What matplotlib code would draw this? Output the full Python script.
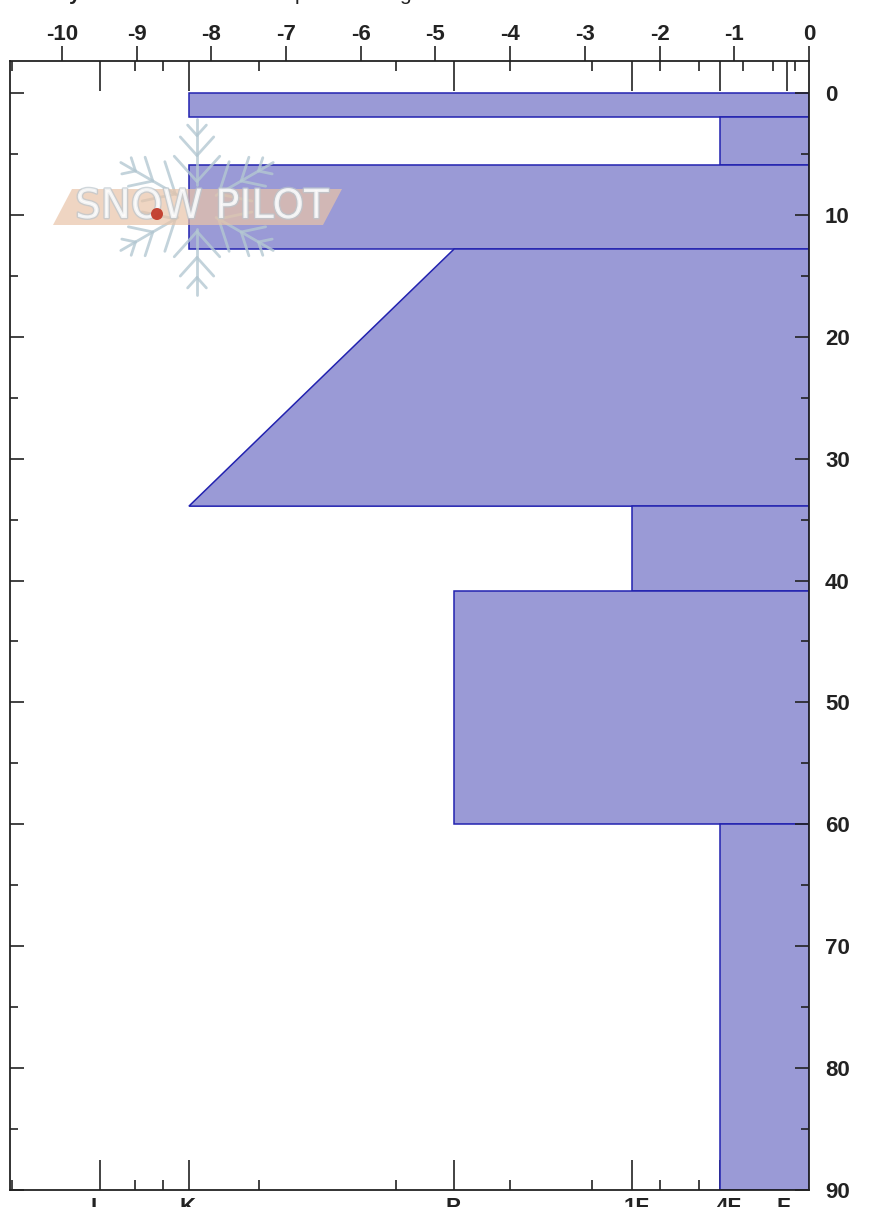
import numpy as np
import matplotlib
matplotlib.use("Agg")
import matplotlib.pyplot as plt
import matplotlib.patheffects as pe
from matplotlib.patches import Polygon, Circle

plt.rcParams['font.family'] = ['Liberation Sans', 'DejaVu Sans']

# --- data ---
hardness_names = ['I', 'K', 'P', '1F', '4F', 'F']
hardness_pos = [-9.49, -8.30, -4.75, -2.37, -1.19, -0.29]
hardness_label_shift_px = [-6, -1, -1, 5, 9, -4]
hardness_minor = [-10.67, -9.02, -8.65, -7.36, -5.53, -4.0, -2.91, -1.99, -1.47, -0.88, -0.48, -0.19]
force_ticks = [-10, -9, -8, -7, -6, -5, -4, -3, -2, -1, 0]
force_labels = ['-10', '-9', '-8', '-7', '-6', '-5', '-4', '-3', '-2', '-1', '0']
depth_major = [0, 10, 20, 30, 40, 50, 60, 70, 80, 90]
depth_minor = [5, 15, 25, 35, 45, 55, 65, 75, 85]
layer_top = [0, 2, 5.9, 12.8, 33.9, 40.85, 59.95]
layer_bottom = [2, 5.9, 12.8, 33.9, 40.85, 59.95, 90]
layer_hard_top = [-8.30, -1.19, -8.30, -4.75, -2.37, -4.75, -1.19]
layer_hard_bottom = [-8.30, -1.19, -8.30, -8.30, -2.37, -4.75, -1.19]

FIG_W, FIG_H = 870, 1207
L, R, T, B = 10, 809, 61, 1190
PX = 0.72  # points per pixel at dpi 100
INK = '#222222'

fig = plt.figure(figsize=(FIG_W / 100, FIG_H / 100), dpi=100, facecolor='white')
ax = fig.add_axes([L / FIG_W, 1 - B / FIG_H, (R - L) / FIG_W, (B - T) / FIG_H])
ax.set_xlim(-10.695, 0)
ax.set_ylim(90, -2.62)

for top, bot, ht, hb in zip(layer_top, layer_bottom, layer_hard_top, layer_hard_bottom):
    ax.add_patch(Polygon([(0, top), (ht, top), (hb, bot), (0, bot)], closed=True,
                         facecolor='#9a9ad6', edgecolor='#2222b0', linewidth=1.1, zorder=1.5))

for s in ax.spines.values():
    s.set_linewidth(1.5 * PX * 1.2)
    s.set_color(INK)
    s.set_zorder(5)

ax.xaxis.tick_top()
ax.set_xticks(force_ticks)
ax.set_xticklabels(force_labels, fontsize=16, fontweight='bold', color=INK)
ax.tick_params(axis='x', which='major', direction='out', length=15 * PX, width=1.2, pad=0.5, color=INK)

ax.yaxis.tick_right()
ax.set_yticks(depth_major)
ax.set_yticks(depth_minor, minor=True)
ax.set_yticklabels([str(d) for d in depth_major], fontsize=16, fontweight='bold', color=INK)
ax.tick_params(axis='y', which='major', left=True, right=True, direction='in',
               length=14 * PX, width=1.2, pad=16 * PX, color=INK)
ax.tick_params(axis='y', which='minor', left=True, right=True, direction='in',
               length=8 * PX, width=1.2, color=INK)

for side in ('top', 'bottom'):
    sec = ax.secondary_xaxis(side)
    sec.set_xticks(hardness_pos)
    sec.set_xticks(hardness_minor, minor=True)
    sec.set_xticklabels([])
    sec.tick_params(axis='x', which='major', direction='in', length=30 * PX, width=1.2, color=INK)
    sec.tick_params(axis='x', which='minor', direction='in', length=10 * PX, width=1.2, color=INK)
    sec.spines[side].set_visible(False)

for name, pos, shift in zip(hardness_names, hardness_pos, hardness_label_shift_px):
    ax.annotate(name, xy=(pos, 0), xycoords=ax.get_xaxis_transform(),
                xytext=(shift * PX, -7 * PX), textcoords='offset points',
                ha='center', va='top', fontsize=16, fontweight='bold', color=INK,
                annotation_clip=False)

# title line cut off by the top edge of the image: only the descenders show
for ch, px, weight in [('y', 75, 'bold'), ('p', 300, 'normal'), ('g', 405, 'normal')]:
    fig.text(px / FIG_W, 1.0, ch, ha='center', va='baseline', fontsize=15,
             fontweight=weight, color=INK)

# --- SnowPilot watermark, laid out in pixel space ---
wm = fig.add_axes([0, 0, 1, 1], facecolor='none', zorder=10)
wm.set_xlim(0, FIG_W)
wm.set_ylim(FIG_H, 0)
wm.axis('off')

cx, cy = 197, 206.5
flake = '#b4c8d2'
for deg in (90, 30, -30, -90, 150, 210):
    a = np.deg2rad(deg)
    u = np.array([np.cos(a), -np.sin(a)])
    c = np.array([cx, cy])
    wm.plot(*zip(c + 22 * u, c + 88 * u), color=flake, lw=2.0, alpha=0.8, solid_capstyle='round', zorder=1)
    for r, ln in [(71, 14), (51, 25), (25, 34)]:
        for sgn in (-1, 1):
            b = a + sgn * np.deg2rad(42)
            v = np.array([np.cos(b), -np.sin(b)])
            wm.plot(*zip(c + r * u, c + r * u + ln * v), color=flake, lw=2.0, alpha=0.8,
                    solid_capstyle='round', zorder=1)

wm.add_patch(Polygon([(53, 225), (72, 189), (342, 189), (323, 225)], closed=True,
                     facecolor='#e9c4a8', edgecolor='none', alpha=0.7, zorder=2))
wm.text(202, 207, 'SNOW PILOT', ha='center', va='center', fontsize=29,
        family='DejaVu Sans', color='white', alpha=0.72, zorder=3,
        path_effects=[pe.withStroke(linewidth=2, foreground='#bcc6cd', alpha=0.7)])
wm.add_patch(Circle((157, 214), 6, facecolor='#c23b2a', edgecolor='none', alpha=0.95, zorder=4))

fig.savefig('out.png', dpi=100)
